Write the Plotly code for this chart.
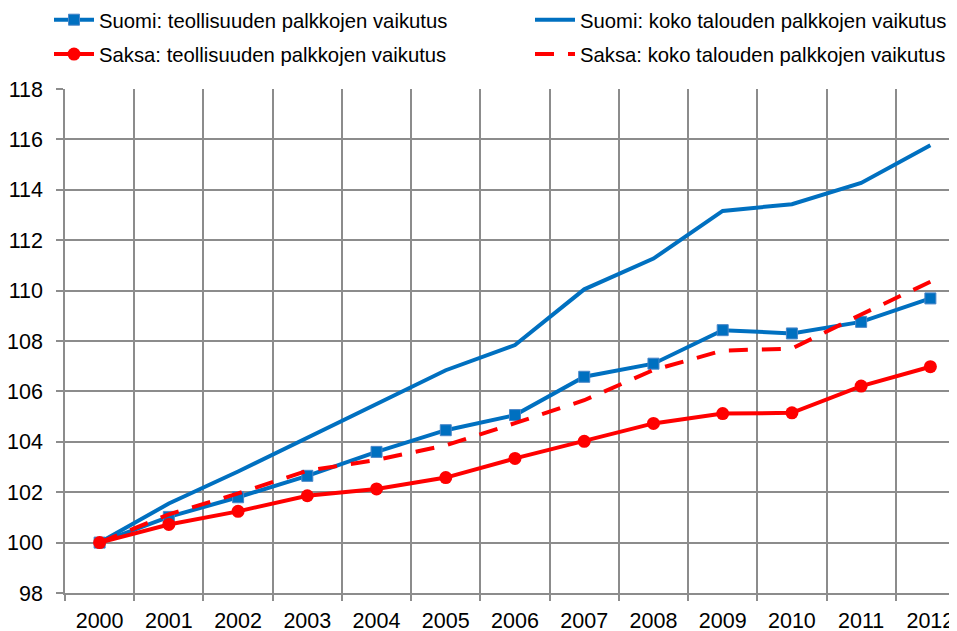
import plotly.graph_objects as go

years = ["2000", "2001", "2002", "2003", "2004", "2005", "2006",
         "2007", "2008", "2009", "2010", "2011", "2012"]

suomi_teollisuus = [100.0, 101.02, 101.80, 102.65, 103.60, 104.46, 105.06,
                    106.58, 107.10, 108.43, 108.30, 108.76, 109.69]
suomi_koko = [100.0, 101.55, 102.82, 104.15, 105.48, 106.84, 107.84,
              110.05, 111.27, 113.16, 113.43, 114.27, 115.77]
saksa_teollisuus = [100.0, 100.72, 101.24, 101.86, 102.13, 102.58, 103.34,
                    104.02, 104.73, 105.12, 105.15, 106.21, 106.98]
saksa_koko = [100.0, 101.12, 101.95, 102.85, 103.28, 103.86, 104.74,
              105.65, 106.85, 107.62, 107.70, 109.05, 110.35]

y_ticks = [98, 100, 102, 104, 106, 108, 110, 112, 114, 116, 118]

BLUE = "#0070C0"
RED = "#FF0000"
GRID = "#8C8C8C"
FONT = "Liberation Sans, Arial, sans-serif"

fig = go.Figure()
fig.add_trace(go.Scatter(
    x=years, y=suomi_teollisuus, mode="lines+markers",
    name="Suomi: teollisuuden palkkojen vaikutus",
    legend="legend", legendgroup="a",
    line=dict(color=BLUE, width=4),
    marker=dict(symbol="square", size=11, color=BLUE,
                line=dict(color="#4A86C8", width=1)),
))
fig.add_trace(go.Scatter(
    x=years, y=suomi_koko, mode="lines",
    name="Suomi: koko talouden palkkojen vaikutus",
    legend="legend2", legendgroup="c",
    line=dict(color=BLUE, width=4),
))
fig.add_trace(go.Scatter(
    x=years, y=saksa_teollisuus, mode="lines+markers",
    name="Saksa: teollisuuden palkkojen vaikutus",
    legend="legend", legendgroup="b",
    line=dict(color=RED, width=4),
    marker=dict(symbol="circle", size=13, color=RED),
))
fig.add_trace(go.Scatter(
    x=years, y=saksa_koko, mode="lines",
    name="Saksa: koko talouden palkkojen vaikutus",
    legend="legend2", legendgroup="d",
    line=dict(color=RED, width=4, dash="19px,14px"),
))

# plot area: 57..957 x 81..585 (figure px)
legend_top_paper = 1 + (81 + 8) / 504.0

legend_common = dict(
    orientation="v", yanchor="top", xanchor="left",
    xref="container", yref="paper",
    font=dict(family=FONT, size=20.3, color="#000000"),
    itemwidth=40, tracegroupgap=5, traceorder="grouped",
    bgcolor="rgba(0,0,0,0)",
)

fig.update_layout(
    width=957, height=631,
    paper_bgcolor="white", plot_bgcolor="white",
    margin=dict(l=57, r=0, t=81, b=46, autoexpand=False),
    font=dict(family=FONT, size=21.5, color="#000000"),
    showlegend=True,
    legend=dict(x=41 / 957, y=legend_top_paper, **legend_common),
    legend2=dict(x=522 / 957, y=legend_top_paper, **legend_common),
)
fig.update_xaxes(
    type="category", range=[-0.5, 12.5],
    tickson="boundaries", showgrid=True, gridcolor=GRID, gridwidth=1.5,
    ticks="outside", ticklen=6, tickcolor=GRID, tickwidth=1.5,
    showline=True, linecolor=GRID, linewidth=1.5,
    ticklabelstandoff=7,
    tickfont=dict(family=FONT, size=21.5, color="#000000"),
    fixedrange=True,
)
fig.update_yaxes(
    range=[98, 118], tickvals=y_ticks,
    showgrid=True, gridcolor=GRID, gridwidth=1.5,
    ticks="outside", ticklen=7, tickcolor=GRID, tickwidth=1.5,
    showline=True, linecolor=GRID, linewidth=1.5,
    ticklabelstandoff=9,
    tickfont=dict(family=FONT, size=21.5, color="#000000"),
    zeroline=False, fixedrange=True,
)

fig.write_html("out.html")
